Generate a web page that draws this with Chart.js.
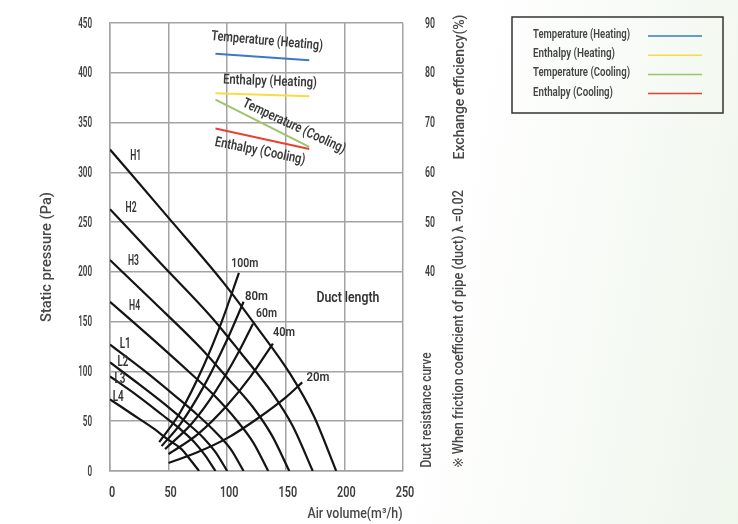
<!DOCTYPE html>
<html>
<head>
<meta charset="utf-8">
<script src="https://cdn.jsdelivr.net/npm/chart.js@4.4.1/dist/chart.umd.min.js"></script>
<style>
  html, body { margin: 0; padding: 0; }
  body { width: 738px; height: 524px; overflow: hidden;
         background: linear-gradient(100deg, #ffffff 58%, #eff6ec 100%); }
  canvas { display: block; }
</style>
</head>
<body>
<canvas id="fanChart" width="738" height="524"></canvas>
<script>
// Axis ticks
const airTicks = [0, 50, 100, 150, 200, 250];
const pressureTicks = [0, 50, 100, 150, 200, 250, 300, 350, 400, 450];
const efficiencyTicks = [40, 50, 60, 70, 80, 90];

// Fan curves (air volume m3/h, static pressure Pa)
const h1Air = [0, 48, 97, 125, 154, 174, 193];
const h1Pa  = [323, 257, 189, 145, 97, 55, 0];
const h2Air = [0, 43, 87, 112, 138, 156, 173];
const h2Pa  = [263, 209, 154, 118, 79, 45, 0];
const h3Air = [0, 38, 77, 99, 122, 138, 153];
const h3Pa  = [212, 169, 124, 95, 64, 36, 0];
const h4Air = [0, 34, 68, 88, 108, 122, 135];
const h4Pa  = [170, 135, 99, 77, 51, 29, 0];
const l1Air = [0, 29, 57, 74, 91, 103, 114];
const l1Pa  = [127, 101, 74, 57, 38, 22, 0];
const l2Air = [0, 25, 50, 65, 80, 90, 100];
const l2Pa  = [109, 87, 64, 49, 33, 19, 0];
const l3Air = [0, 23, 45, 59, 72, 81, 90];
const l3Pa  = [95, 76, 56, 43, 29, 16, 0];
const l4Air = [0, 19, 38, 49, 61, 68, 76];
const l4Pa  = [72, 57, 42, 32, 22, 12, 0];

// Duct resistance curves
const d20Air  = [50, 75, 100, 125, 150, 164];
const d20Pa   = [8, 19, 33, 52, 74, 89];
const d40Air  = [50, 75, 100, 120, 139];
const d40Pa   = [17, 37, 66, 95, 128];
const d60Air  = [47, 70, 90, 110, 122];
const d60Pa   = [22, 48, 80, 120, 148];
const d80Air  = [44, 60, 80, 100, 114];
const d80Pa   = [25, 47, 85, 132, 170];
const d100Air = [42, 60, 80, 95, 110];
const d100Pa  = [29, 59, 106, 149, 199];

// Exchange efficiency (%)
const effAir = [90, 170];
const tempHeating = [83.8, 82.5];
const enthHeating = [75.9, 75.3];
const tempCooling = [74.6, 65.1];
const enthCooling = [68.8, 64.7];

const FONT = 'Roboto, "DejaVu Sans", sans-serif';
const TEXT = '#3d3d3d';
const GRID = '#a3a3a3';

function pts(xs, ys) {
    return xs.map((x, i) => ({ x: x, y: ys[i] }));
}

function curve(label, xs, ys) {
    return {
        label: label, data: pts(xs, ys), yAxisID: 'y',
        borderColor: '#141414', borderWidth: 2.2, pointRadius: 0,
        cubicInterpolationMode: 'monotone', fill: false
    };
}

function effLine(label, ys, color) {
    return {
        label: label, data: pts(effAir, ys), yAxisID: 'y2',
        borderColor: color, borderWidth: 2, pointRadius: 0,
        tension: 0, fill: false, isLegend: true
    };
}

// draw text squeezed to a given width (the original uses a condensed face)
function fitText(ctx, str, cx, cy, size, width, rot, color, align, weight) {
    ctx.save();
    ctx.font = (weight || 500) + ' ' + size + 'px ' + FONT;
    let w = ctx.measureText(str).width;
    ctx.translate(cx, cy);
    ctx.rotate((rot || 0) * Math.PI / 180);
    ctx.scale(width / w, 1);
    ctx.fillStyle = color || TEXT;
    ctx.textAlign = align || 'center';
    ctx.textBaseline = 'middle';
    ctx.fillText(str, 0, 0);
    ctx.restore();
}

// text notes placed in data units
const fanNotes = [
    ['H1', 22, 316], ['H2', 18, 264], ['H3', 20, 210], ['H4', 21, 165],
    ['L1', 13, 127], ['L2', 11, 109], ['L3', 8.5, 92], ['L4', 7, 74]
];
const ductNotes = [
    ['100m', 115, 208, 27], ['80m', 125, 175, 23], ['60m', 133.5, 158, 21],
    ['40m', 148.5, 139, 22], ['20m', 177.5, 94, 23], ['Duct length', 203, 174, 63]
];
const effNotes = [
    ['Temperature (Heating)', 134, 86.3, 112, 5],
    ['Enthalpy (Heating)', 136.5, 78.2, 94, 2],
    ['Temperature (Cooling)', 157, 69.2, 112, 25],
    ['Enthalpy (Cooling)', 128, 64.2, 92, 11.5]
];

const notesPlugin = {
    id: 'notes',
    afterDraw(chart) {
        const ctx = chart.ctx;
        const { x, y, y2 } = chart.scales;

        // tick labels
        x.ticks.forEach(t => {
            let s = String(t.value);
            fitText(ctx, s, x.getPixelForValue(t.value) + 2, 493, 14, 6.2 * s.length, 0, TEXT, 'center', 600);
        });
        y.ticks.forEach(t => {
            let s = String(t.value);
            fitText(ctx, s, 92, y.getPixelForValue(t.value) + 1, 14, 4.6 * s.length, 0, TEXT, 'right', 600);
        });
        y2.ticks.forEach(t => {
            if (t.value < 40) return;
            let s = String(t.value);
            fitText(ctx, s, 425, y2.getPixelForValue(t.value) + 1, 14, 5 * s.length, 0, TEXT, 'left', 600);
        });

        // axis titles
        fitText(ctx, 'Static pressure (Pa)', 47, 257, 14, 130, -90, '#474747');
        fitText(ctx, 'Air volume(m\u00b3/h)', 355, 514, 14, 95, 0, '#474747');
        fitText(ctx, 'Duct resistance curve', 427, 410, 14, 115, -90, '#474747');
        fitText(ctx, '\u203b When friction coefficient of pipe (duct) \u03bb =0.02', 459, 329, 14, 278, -90, '#474747');
        fitText(ctx, 'Exchange efficiency(%)', 460, 87, 14, 145, -90, '#474747');

        // curve labels
        fanNotes.forEach(n => fitText(ctx, n[0], x.getPixelForValue(n[1]), y.getPixelForValue(n[2]), 14, 11, 0, '#333', 'center', 600));
        ductNotes.forEach(n => fitText(ctx, n[0], x.getPixelForValue(n[1]), y.getPixelForValue(n[2]), n[0].length > 5 ? 15 : 13, n[3], 0, '#333', 'center', 600));
        effNotes.forEach(n => fitText(ctx, n[0], x.getPixelForValue(n[1]), y2.getPixelForValue(n[2]), 14, n[3], n[4], '#3a3a3a', 'center', 600));

        // legend box
        const items = chart.data.datasets.filter(d => d.isLegend);
        ctx.save();
        ctx.strokeStyle = '#333';
        ctx.lineWidth = 1.5;
        ctx.strokeRect(512, 17, 211, 96);
        items.forEach((d, i) => {
            let yy = 35 + i * 19.2;
            fitText(ctx, d.label, 533, yy, 12, [97, 82, 97, 80][i], 0, '#444', 'left', 600);
            ctx.strokeStyle = d.borderColor;
            ctx.lineWidth = 1.5;
            ctx.beginPath();
            ctx.moveTo(648, yy + 1);
            ctx.lineTo(702, yy + 1);
            ctx.stroke();
        });
        ctx.restore();
    }
};

const datasets = [
    curve('H1', h1Air, h1Pa), curve('H2', h2Air, h2Pa), curve('H3', h3Air, h3Pa), curve('H4', h4Air, h4Pa),
    curve('L1', l1Air, l1Pa), curve('L2', l2Air, l2Pa), curve('L3', l3Air, l3Pa), curve('L4', l4Air, l4Pa),
    curve('20m', d20Air, d20Pa), curve('40m', d40Air, d40Pa), curve('60m', d60Air, d60Pa),
    curve('80m', d80Air, d80Pa), curve('100m', d100Air, d100Pa),
    effLine('Temperature (Heating)', tempHeating, '#3a78c9'),
    effLine('Enthalpy (Heating)', enthHeating, '#f7dc45'),
    effLine('Temperature (Cooling)', tempCooling, '#9cc46c'),
    effLine('Enthalpy (Cooling)', enthCooling, '#e9402f')
];

new Chart(document.getElementById('fanChart').getContext('2d'), {
    type: 'line',
    data: { datasets: datasets },
    plugins: [notesPlugin],
    options: {
        responsive: false,
        animation: false,
        layout: { padding: { top: 23, left: 0, right: 0, bottom: 0 } },
        plugins: { legend: { display: false }, tooltip: { enabled: false } },
        scales: {
            x: {
                type: 'linear', min: airTicks[0], max: airTicks[airTicks.length - 1],
                afterBuildTicks: s => { s.ticks = airTicks.map(v => ({ value: v })); },
                ticks: { display: false },
                grid: { color: GRID, lineWidth: 1.5, drawTicks: false },
                border: { color: GRID, width: 1.5 },
                afterFit: s => { s.height = 53; }
            },
            y: {
                position: 'left', min: pressureTicks[0], max: pressureTicks[pressureTicks.length - 1],
                afterBuildTicks: s => { s.ticks = pressureTicks.map(v => ({ value: v })); },
                ticks: { display: false },
                grid: { color: GRID, lineWidth: 1.5, drawTicks: false },
                border: { color: GRID, width: 1.5 },
                afterFit: s => { s.width = 110; }
            },
            y2: {
                position: 'right', min: 0, max: efficiencyTicks[efficiencyTicks.length - 1],
                afterBuildTicks: s => { s.ticks = efficiencyTicks.map(v => ({ value: v })); },
                ticks: { display: false },
                grid: { display: false, drawTicks: false },
                border: { display: false },
                afterFit: s => { s.width = 335; }
            }
        }
    }
});
</script>
</body>
</html>
